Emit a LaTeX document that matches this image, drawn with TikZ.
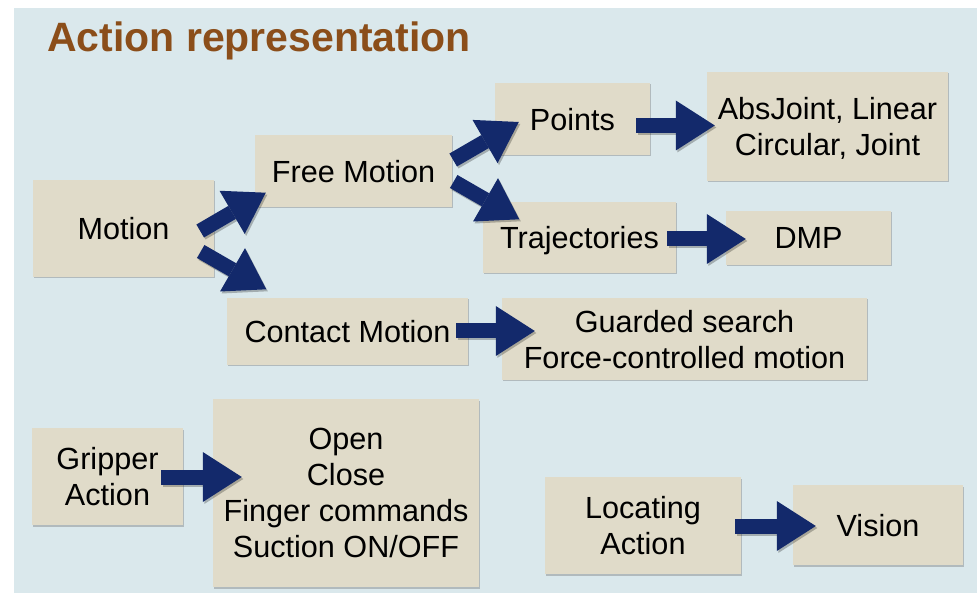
\documentclass[tikz,border=0pt]{standalone}
\usepackage{fontspec}
\setmainfont{Liberation Sans}
\usetikzlibrary{arrows.meta,shadows}

\definecolor{panelblue}{RGB}{218,232,236}
\definecolor{boxtan}{RGB}{224,219,201}
\definecolor{arrowblue}{RGB}{19,41,107}
\definecolor{titlebrown}{RGB}{139,78,26}

\tikzset{
  box/.style={rectangle, fill=boxtan, inner sep=0pt, align=center,
    text depth=0pt, font=\fontsize{30.6}{36}\selectfont,
    drop shadow={shadow xshift=1pt, shadow yshift=-1.5pt, opacity=0.35, fill=black!60}},
  flowtip/.style={-{Triangle[width=50pt,length=39pt,line width=0pt]}},
  flow/.style={flowtip, line width=15pt, draw=arrowblue},
  flowshade/.style={flowtip, line width=15pt, draw=black, opacity=0.25,
    transform canvas={shift={(1.5pt,-2pt)}}},
}
% block arrow with its soft shadow
\newcommand\flowarrow[2]{%
  \draw[flowshade] #1 -- #2;
  \draw[flow] #1 -- #2;}

\begin{document}
\begin{tikzpicture}[x=1pt,y=-1pt]
  \useasboundingbox (0,0) rectangle (977,593);
  \fill[white] (0,0) rectangle (977,593);
  \fill[panelblue] (14,8) rectangle (977,593);

  \node[anchor=base west, inner sep=0pt, text=titlebrown,
        font=\fontsize{41}{48}\selectfont\bfseries] (title) at (47,52) {Action representation};

  % motion tree
  \node[box, minimum width=181pt, minimum height=97pt] (motion) at (123.5,228.5) {Motion};
  \node[box, minimum width=197pt, minimum height=72pt] (free) at (353.5,171) {Free Motion};
  \node[box, minimum width=155pt, minimum height=72pt] (points) at (572.5,119) {Points};
  \node[box, minimum width=241pt, minimum height=109pt] (absj) at (827.5,126.5) {AbsJoint, Linear\\Circular, Joint};
  \node[box, minimum width=193pt, minimum height=71pt] (traj) at (579.5,237.5) {Trajectories};
  \node[box, minimum width=165pt, minimum height=54pt] (dmp) at (808.5,238) {DMP};
  \node[box, minimum width=241pt, minimum height=67pt] (contact) at (347.5,331.5) {Contact Motion};
  \node[box, minimum width=365pt, minimum height=82pt] (guarded) at (684.5,339) {Guarded search\\Force-controlled motion};

  % gripper
  \node[box, minimum width=151pt, minimum height=97pt] (gripper) at (107.5,476.5) {Gripper\\Action};
  \node[box, minimum width=266pt, minimum height=188pt] (gripcmd) at (346,493) {Open\\Close\\Finger commands\\Suction ON/OFF};

  % locating
  \node[box, minimum width=196pt, minimum height=97pt] (locating) at (643,525.5) {Locating\\Action};
  \node[box, minimum width=170pt, minimum height=80pt] (vision) at (878,525) {Vision};

  % connectors
  \flowarrow{([shift={(-14,2.5)}]motion.east)}{([shift={(11,-14.5)}]free.south west)}
  \flowarrow{([shift={(-13.5,23)}]motion.east)}{([shift={(39.5,-8.5)}]contact.north west)}
  \flowarrow{([shift={(1,-11)}]free.east)}{([shift={(24,3)}]points.west)}
  \flowarrow{([shift={(1.5,10.5)}]free.east)}{([shift={(36.5,17.5)}]traj.north west)}
  \flowarrow{([shift={(-14,6.5)}]points.east)}{([shift={(8,-1)}]absj.west)}
  \flowarrow{([shift={(-9,1.5)}]traj.east)}{([shift={(20,1)}]dmp.west)}
  \flowarrow{([shift={(-12,-0.5)}]contact.east)}{([shift={(33,-8)}]guarded.west)}
  \flowarrow{([shift={(-22,0.5)}]gripper.east)}{([shift={(29,-16)}]gripcmd.west)}
  \flowarrow{([shift={(-6,0.5)}]locating.east)}{([shift={(23,1)}]vision.west)}
\end{tikzpicture}
\end{document}
